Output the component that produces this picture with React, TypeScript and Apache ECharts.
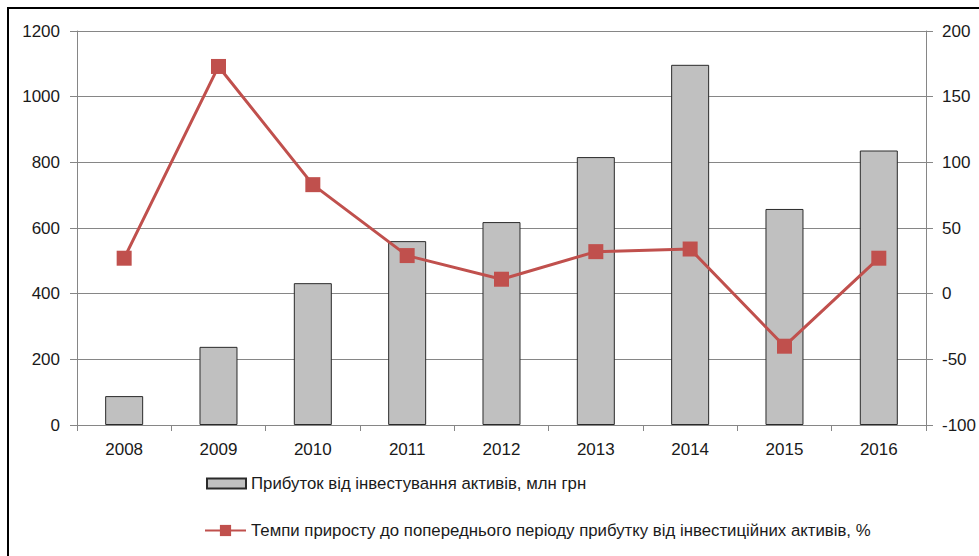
import React, { useEffect, useRef } from "react";
import * as echarts from "echarts";

const years = ["2008", "2009", "2010", "2011", "2012", "2013", "2014", "2015", "2016"];
const profit = [88, 238, 432, 560, 618, 816, 1097, 658, 836];
const growth = [27, 173, 83, 29, 11, 32, 34, -40, 27];
const barName = "Прибуток від інвестування активів, млн грн";
const lineName = "Темпи приросту до попереднього періоду прибутку від інвестиційних активів, %";

export default function App() {
  const ref = useRef<HTMLDivElement>(null);
  useEffect(() => {
    document.body.style.margin = "0";
    document.body.style.overflow = "hidden";
    if (!ref.current) return;
    const chart = echarts.init(ref.current, null, { renderer: "svg" });
    const font = "Liberation Sans, Arial, sans-serif";
    const textColor = "#1a1a1a";
    const axisGray = "#868686";
    chart.setOption({
      animation: false,
      backgroundColor: "#ffffff",
      textStyle: { fontFamily: font },
      graphic: [
        { type: "line", shape: { x1: 7, y1: 8, x2: 979, y2: 8 }, style: { stroke: "#000", lineWidth: 2 } },
        { type: "line", shape: { x1: 8, y1: 7, x2: 8, y2: 556 }, style: { stroke: "#000", lineWidth: 2 } },
      ],
      grid: { left: 77, top: 31, width: 849, height: 394, containLabel: false },
      legend: [
        {
          data: [{ name: barName, icon: "rect" }],
          orient: "vertical",
          left: 206,
          top: 475,
          padding: 0,
          itemWidth: 39,
          itemHeight: 10,
          itemGap: 0,
          textStyle: { fontSize: 16.8, color: textColor, fontFamily: font },
        },
        {
          data: [lineName],
          orient: "vertical",
          left: 204,
          top: 522,
          padding: 0,
          itemWidth: 41,
          itemHeight: 14,
          itemGap: 0,
          textStyle: { fontSize: 16.8, color: textColor, fontFamily: font },
        },
      ],
      xAxis: {
        type: "category",
        data: years,
        boundaryGap: true,
        axisLine: { lineStyle: { color: axisGray, width: 1 } },
        axisTick: { show: true, length: 6, lineStyle: { color: axisGray } },
        axisLabel: { fontSize: 17, color: textColor, margin: 16 },
      },
      yAxis: [
        {
          type: "value",
          min: 0,
          max: 1200,
          interval: 200,
          axisLine: { show: true, lineStyle: { color: axisGray } },
          axisTick: { show: true, length: 7, lineStyle: { color: axisGray } },
          axisLabel: { fontSize: 17, color: textColor, margin: 17, formatter: (v: number) => String(v) },
          splitLine: { show: true, lineStyle: { color: axisGray, width: 1 } },
        },
        {
          type: "value",
          min: -100,
          max: 200,
          interval: 50,
          position: "right",
          axisLine: { show: true, lineStyle: { color: axisGray } },
          axisTick: { show: true, length: 7, lineStyle: { color: axisGray } },
          axisLabel: { fontSize: 17, color: textColor, margin: 16, formatter: (v: number) => String(v) },
          splitLine: { show: false },
        },
      ],
      series: [
        {
          name: barName,
          type: "bar",
          data: profit,
          yAxisIndex: 0,
          barWidth: 38,
          itemStyle: { color: "#c0c0c0", borderColor: "#2a2a2a", borderWidth: 1 },
        },
        {
          name: lineName,
          type: "line",
          data: growth,
          yAxisIndex: 1,
          symbol: "rect",
          symbolSize: 15,
          lineStyle: { color: "#c0504d", width: 3 },
          itemStyle: { color: "#c0504d" },
          z: 5,
        },
      ],
    });
    return () => chart.dispose();
  }, []);
  return <div ref={ref} style={{ width: 979, height: 556 }} />;
}
